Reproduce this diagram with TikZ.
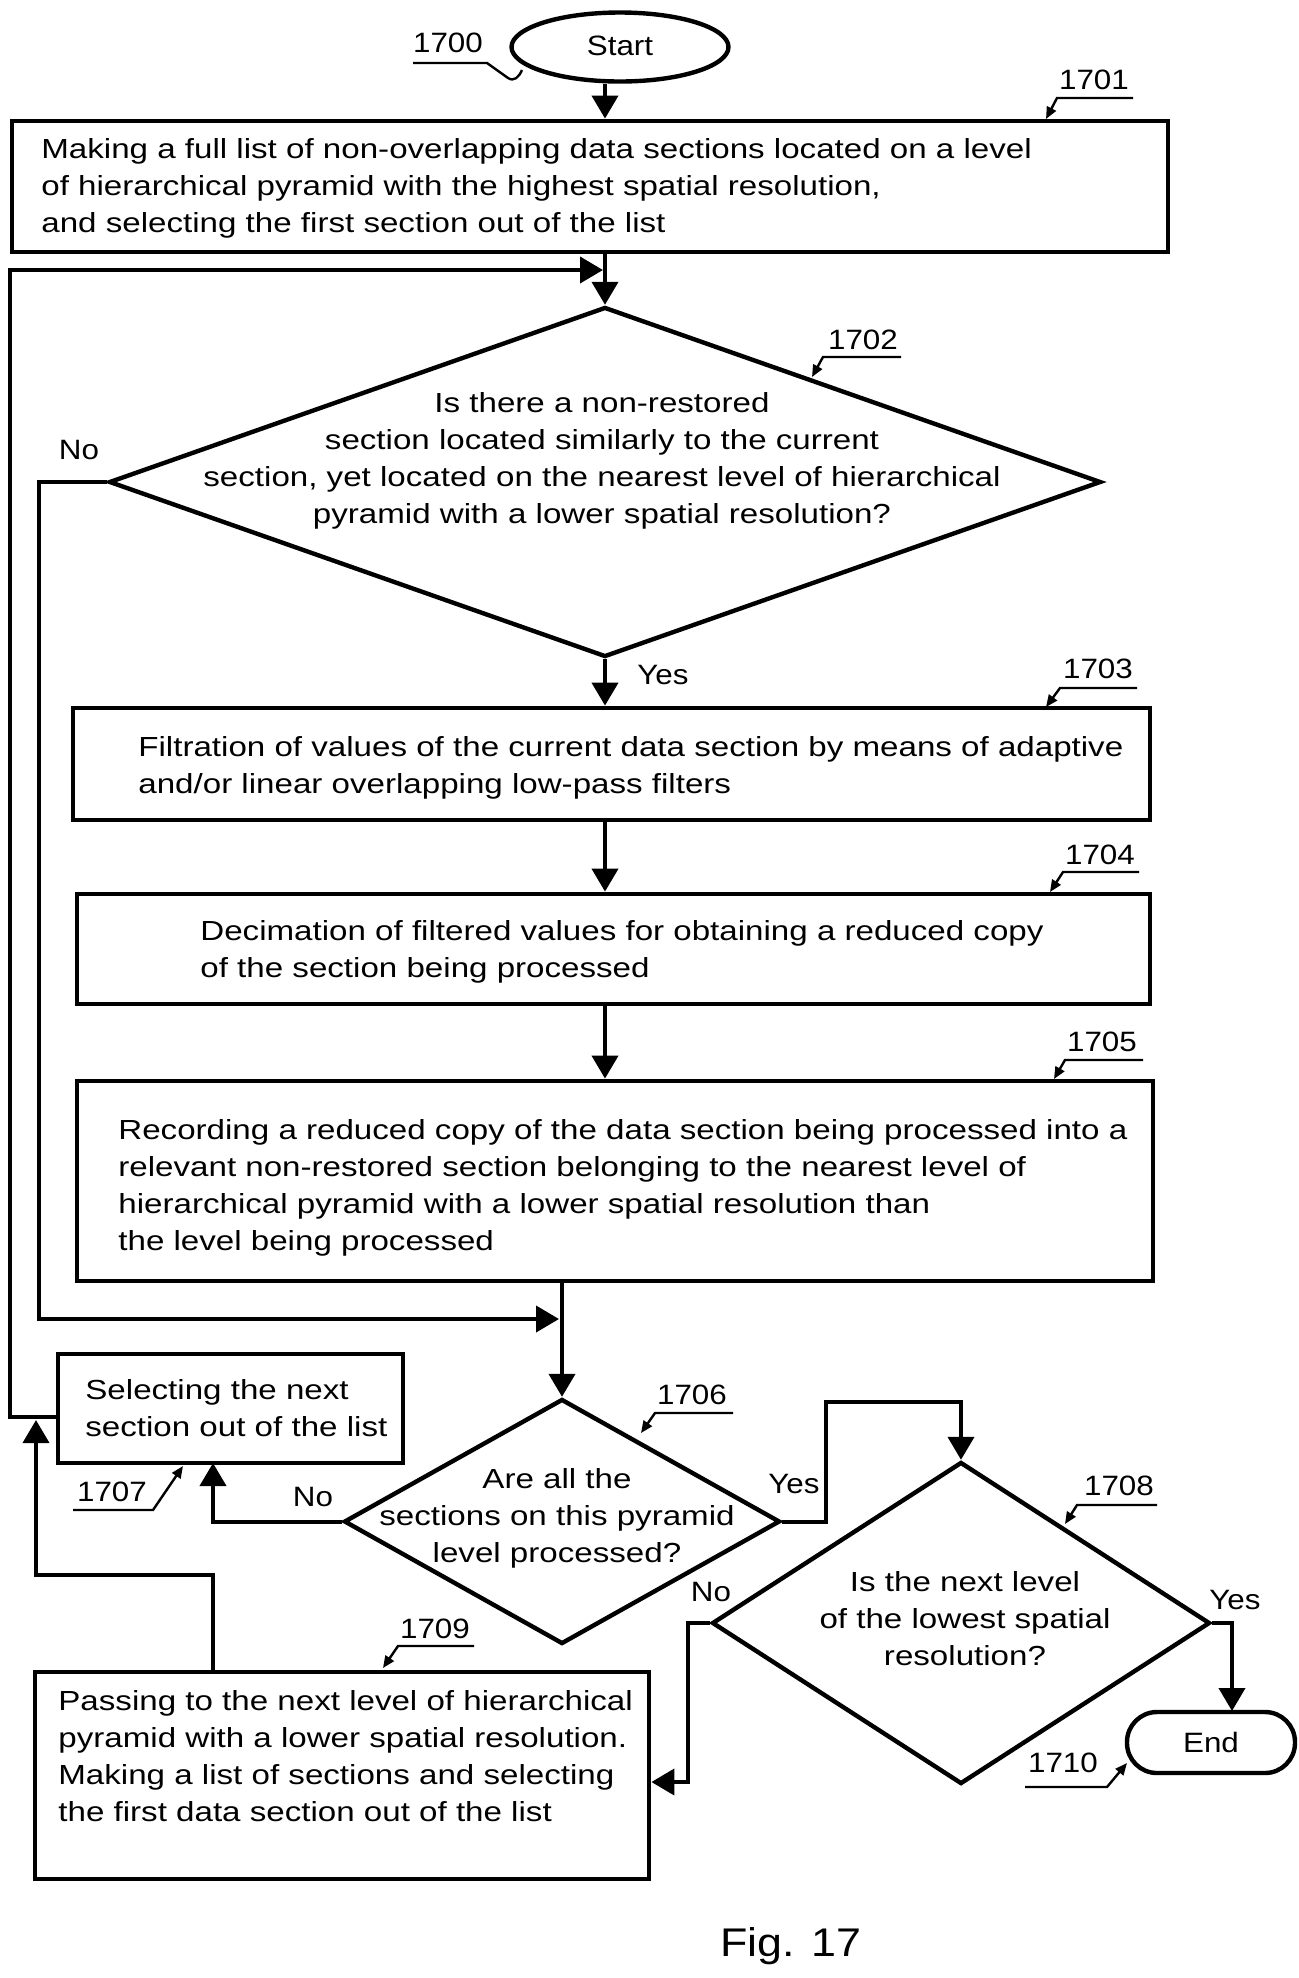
\documentclass[tikz,border=0pt]{standalone}
\usepackage{fontspec}
\setmainfont{Liberation Sans}
\newfontfamily\mainf{Liberation Sans}[FakeStretch=1.2]
\newfontfamily\labf{Liberation Sans}[FakeStretch=1.12]
\usetikzlibrary{shapes.geometric,arrows.meta}
\begin{document}
\begin{tikzpicture}[x=0.5pt,y=-0.5pt,
  box/.style={draw,rectangle,line width=2.4pt,inner sep=0pt},
  dia/.style={draw,diamond,line width=2.2pt,inner sep=0pt},
  term/.style={draw,line width=2.2pt,inner sep=0pt,font=\labf\fontsize{14pt}{17pt}\selectfont},
  txt/.style={inner sep=0pt,font=\mainf\fontsize{13.8pt}{18.5pt}\selectfont},
  lab/.style={inner sep=0pt,font=\labf\fontsize{14pt}{17pt}\selectfont},
  conn/.style={line width=2pt,-{Triangle[length=11.5pt,width=13pt]}},
  lead/.style={line width=1.2pt},
  leadarr/.style={line width=1.2pt,-{Triangle[length=6pt,width=5pt]}}
]
\fill[white] (0,0) rectangle (1299,1978);
\useasboundingbox (0,0) rectangle (1299,1978);

% ---------- nodes ----------
\node[term,ellipse,minimum width=108.5pt,minimum height=34.5pt,text depth=1pt] (start) at (620,47) {Start};
\node[box,minimum width=578pt,minimum height=65.5pt] (b1701) at (590,186.5) {};
\node[txt,anchor=west,align=left] (t1701) at (41,188) {Making a full list of non-overlapping data sections located on a level\\of hierarchical pyramid with the highest spatial resolution,\\and selecting the first section out of the list};

\node[dia,minimum width=496pt,minimum height=175pt] (d1702) at (605,482) {};
\node[txt,align=center] (t1702) at (602,461) {Is there a non-restored\\section located similarly to the current\\section, yet located on the nearest level of hierarchical\\pyramid with a lower spatial resolution?};

\node[box,minimum width=538.5pt,minimum height=56pt] (b1703) at (611.5,764) {};
\node[txt,anchor=west,align=left] (t1703) at (138,768) {Filtration of values of the current data section by means of adaptive\\and/or linear overlapping low-pass filters};

\node[box,minimum width=536.5pt,minimum height=55pt] (b1704) at (613.5,949) {};
\node[txt,anchor=west,align=left] (t1704) at (200,952) {Decimation of filtered values for obtaining a reduced copy\\of the section being processed};

\node[box,minimum width=538pt,minimum height=100pt] (b1705) at (615,1181) {};
\node[txt,anchor=west,align=left] (t1705) at (118,1188) {Recording a reduced copy of the data section being processed into a\\relevant non-restored section belonging to the nearest level of\\hierarchical pyramid with a lower spatial resolution than\\the level being processed};

\node[box,minimum width=172.5pt,minimum height=54.5pt] (b1707) at (230.5,1408.5) {};
\node[txt,anchor=west,align=left] (t1707) at (85,1408) {Selecting the next\\section out of the list};

\node[dia,minimum width=218pt,minimum height=122.5pt] (d1706) at (562,1521.5) {};
\node[txt,align=center] (t1706) at (557,1518) {Are all the\\sections on this pyramid\\level processed?};

\node[dia,minimum width=249pt,minimum height=161pt] (d1708) at (961,1623) {};
\node[txt,align=center] (t1708) at (965,1618.5) {Is the next level\\of the lowest spatial\\resolution?};

\node[box,minimum width=307pt,minimum height=103.5pt] (b1709) at (342,1775.5) {};
\node[txt,anchor=west,align=left] (t1709) at (58,1756) {Passing to the next level of hierarchical\\pyramid with a lower spatial resolution.\\Making a list of sections and selecting\\the first data section out of the list};

\node[term,rectangle,rounded corners=15pt,minimum width=84pt,minimum height=30.5pt] (end) at (1211,1742.5) {End};

% ---------- helper coordinates ----------
\coordinate (j1) at (603,270);
\coordinate (loopL) at (58,1417);
\coordinate (noL) at (39,1319);
\coordinate (m1) at (559,1319);
\coordinate (c213) at (213,1463);
\coordinate (yesA) at (826,1521.5);
\coordinate (yesB) at (826,1402);
\coordinate (endt) at (1232,1711);
\coordinate (noR) at (688,1782);
\coordinate (y1782) at (0,1782);
\coordinate (up1) at (213,1575);
\coordinate (up2) at (36,1575);
\coordinate (up3) at (36,1420);

% ---------- connectors ----------
\draw[conn] (start.south -| d1702.north) -- (b1701.north -| d1702.north);
\draw[conn] (b1701.south -| d1702.north) -- (d1702.north);
\draw[conn] (loopL) -- (10,1417) -- (10,270) -- (j1);
\draw[conn] (d1702.west) -| (noL) -- (m1);
\draw[conn] (d1702.south) -- (b1703.north -| d1702.south);
\draw[conn] (b1703.south -| d1702.south) -- (b1704.north -| d1702.south);
\draw[conn] (b1704.south -| d1702.south) -- (b1705.north -| d1702.south);
\draw[conn] (b1705.south -| d1706.north) -- (d1706.north);
\draw[conn] (d1706.west) -| (c213);
\draw[conn] (d1706.east) -- (yesA) -- (yesB) -| (d1708.north);
\draw[conn] (d1708.east) -| (endt);
\draw[conn] (d1708.west) -| (noR) -- (b1709.east |- y1782);
\draw[conn] (b1709.north -| c213) -- (up1) -- (up2) -- (up3);

% ---------- branch labels ----------
\node[lab] (no1) at (79,450) {No};
\node[lab] (yes1) at (663,675) {Yes};
\node[lab] (no2) at (313,1497) {No};
\node[lab] (yes2) at (794,1484) {Yes};
\node[lab] (no3) at (711,1592) {No};
\node[lab] (yes3) at (1235,1600) {Yes};

% ---------- reference numerals ----------
\node[lab] (n1700) at (448,43) {1700};
\coordinate (a0) at (413,63); \coordinate (a1) at (487,63); \coordinate (a2) at (508,78); \coordinate (a3) at (522,70);
\draw[lead] (a0) -- (a1) -- (a2) .. controls (514,82) and (519,77) .. (a3);

\node[lab] (n1701) at (1094,80) {1701};
\coordinate (b0) at (1133,98); \coordinate (b1) at (1057,98); \coordinate (b2) at (1046,119);
\draw[leadarr] (b0) -- (b1) -- (b2);

\node[lab] (n1702) at (863,340) {1702};
\coordinate (c0) at (901,357); \coordinate (c1) at (823,357); \coordinate (c2) at (812,377);
\draw[leadarr] (c0) -- (c1) -- (c2);

\node[lab] (n1703) at (1098,669) {1703};
\coordinate (d0) at (1137,688); \coordinate (d1) at (1060,688); \coordinate (d2) at (1046,707);
\draw[leadarr] (d0) -- (d1) -- (d2);

\node[lab] (n1704) at (1100,855) {1704};
\coordinate (e0) at (1139,872); \coordinate (e1) at (1063,872); \coordinate (e2) at (1050,892);
\draw[leadarr] (e0) -- (e1) -- (e2);

\node[lab] (n1705) at (1102,1042) {1705};
\coordinate (f0) at (1143,1060); \coordinate (f1) at (1065,1060); \coordinate (f2) at (1054,1079);
\draw[leadarr] (f0) -- (f1) -- (f2);

\node[lab] (n1706) at (692,1395) {1706};
\coordinate (g0) at (733,1413); \coordinate (g1) at (655,1413); \coordinate (g2) at (641,1433);
\draw[leadarr] (g0) -- (g1) -- (g2);

\node[lab] (n1707) at (112,1492) {1707};
\coordinate (h0) at (73,1510); \coordinate (h1) at (153,1510); \coordinate (h2) at (183,1466);
\draw[leadarr] (h0) -- (h1) -- (h2);

\node[lab] (n1708) at (1119,1486) {1708};
\coordinate (i0) at (1157,1505); \coordinate (i1) at (1077,1505); \coordinate (i2) at (1065,1524);
\draw[leadarr] (i0) -- (i1) -- (i2);

\node[lab] (n1709) at (435,1629) {1709};
\coordinate (k0) at (474,1646); \coordinate (k1) at (398,1646); \coordinate (k2) at (383,1668);
\draw[leadarr] (k0) -- (k1) -- (k2);

\node[lab] (n1710) at (1063,1763) {1710};
\coordinate (l0) at (1025,1787); \coordinate (l1) at (1107,1787); \coordinate (l2) at (1127,1763);
\draw[leadarr] (l0) -- (l1) -- (l2);

\node[lab,font=\labf\fontsize{20pt}{24pt}\selectfont] (fig) at (791,1946) {Fig. 17};
\end{tikzpicture}
\end{document}
